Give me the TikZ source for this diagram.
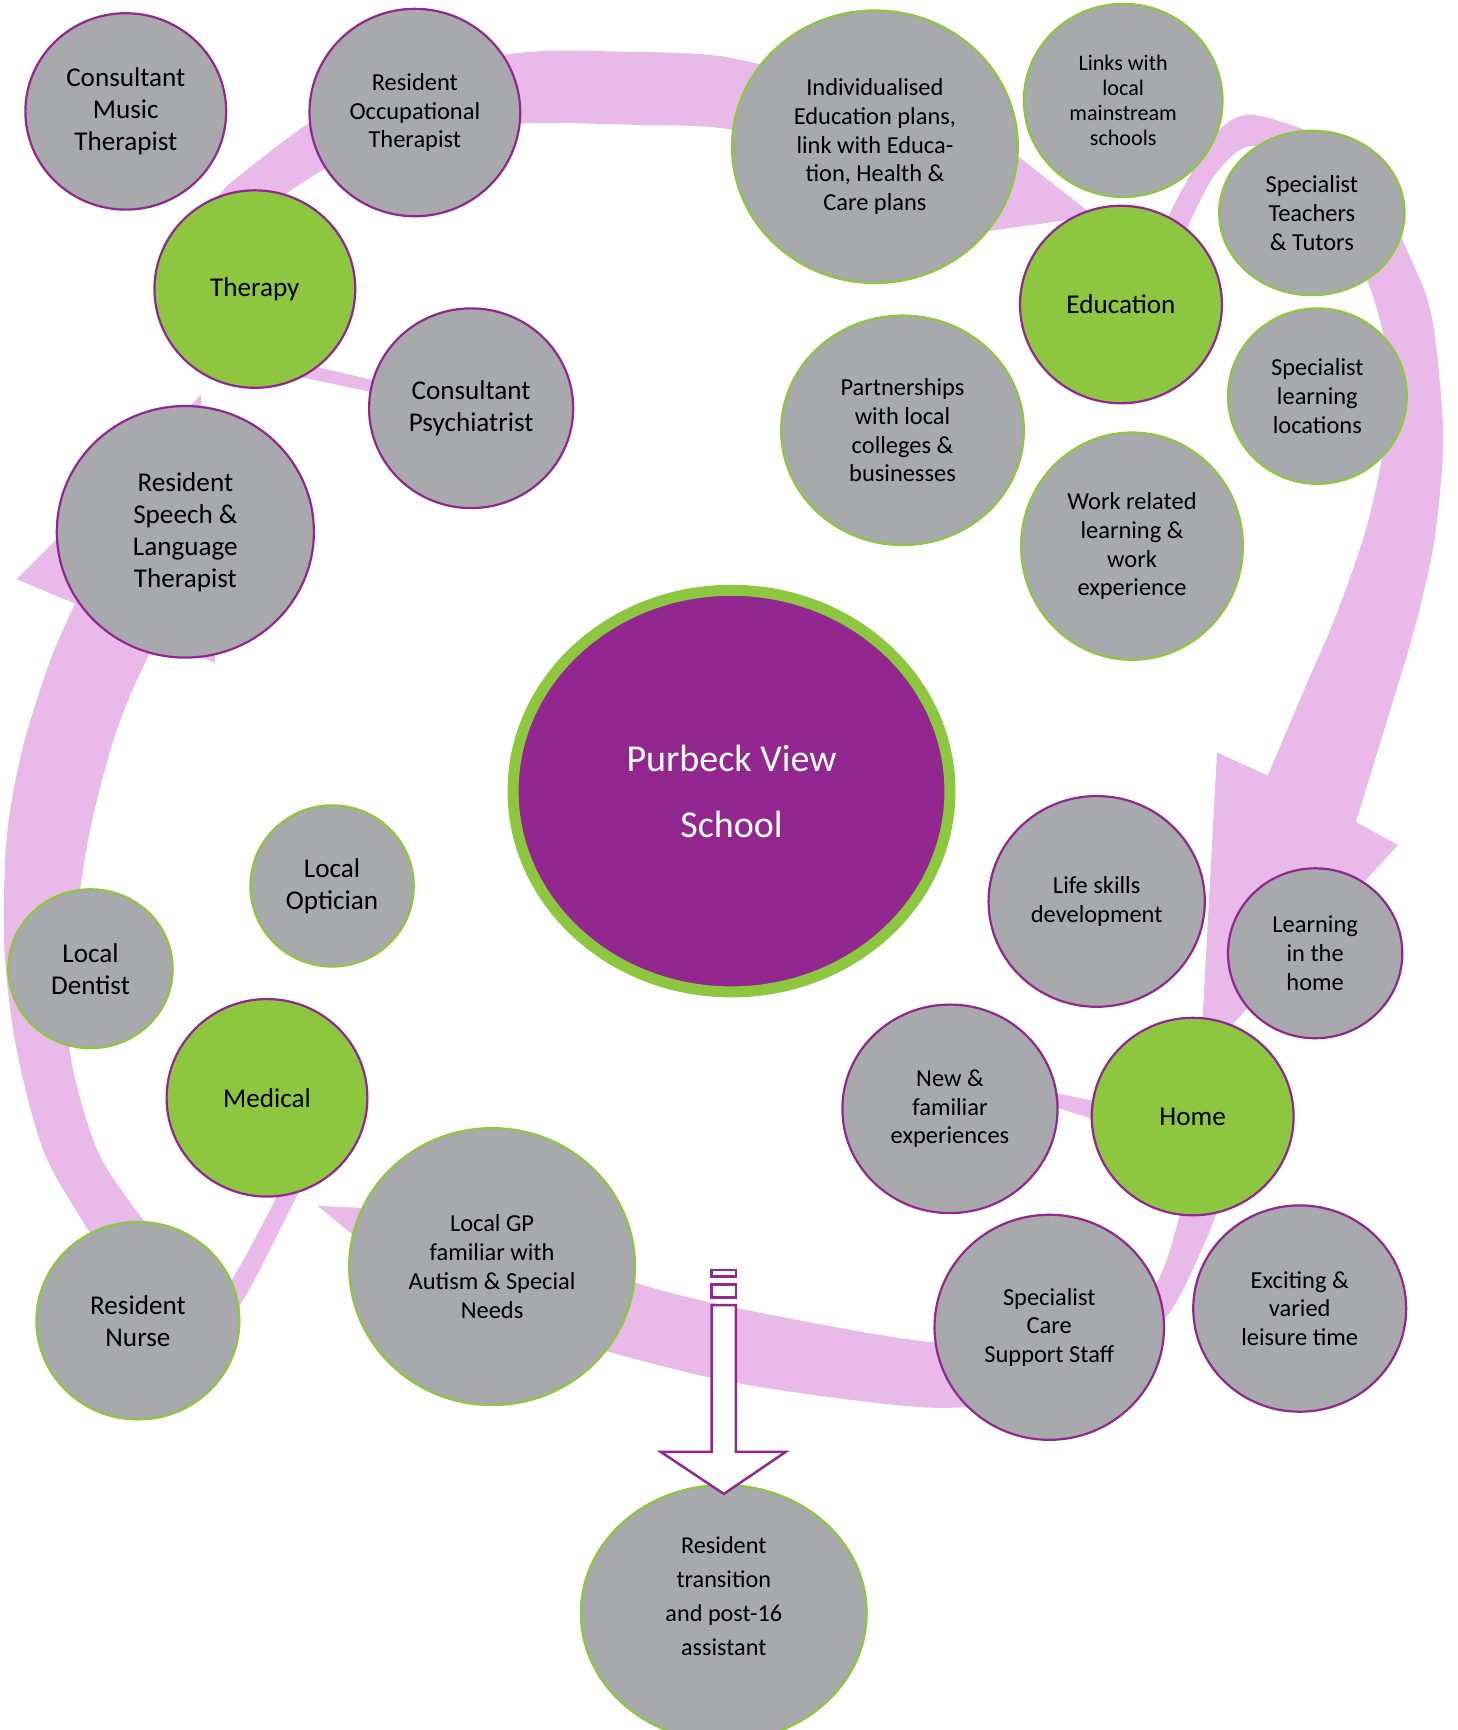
\documentclass[tikz,border=0pt]{standalone}
\usepackage{fontspec}
\setmainfont{Carlito}
\usetikzlibrary{shapes.geometric,calc,positioning}

\definecolor{bubgray}{HTML}{A7A9AC}
\definecolor{hubgreen}{HTML}{8DC63F}
\definecolor{rimpurple}{HTML}{92278F}
\definecolor{ringpink}{HTML}{E9B9E9}

% text sizes used in the bubbles
\newcommand{\txtbig}{\fontsize{14}{16.5}\selectfont}
\newcommand{\txtmid}{\fontsize{12.6}{14.8}\selectfont}
\newcommand{\txtsmall}{\fontsize{11.4}{13}\selectfont}
\newcommand{\txtwide}{\fontsize{12.5}{17.6}\selectfont}
\newcommand{\txtschool}{\fontsize{19.6}{34}\selectfont}

\begin{document}
\begin{tikzpicture}[
    x=0.2mm, y=-0.2mm,
    bubble/.style  ={ellipse, draw=rimpurple, fill=bubgray, line width=0.4mm, inner sep=0pt, align=center, font=\txtmid},
    greenrim/.style={bubble, draw=hubgreen},
    hub/.style     ={bubble, fill=hubgreen, font=\txtbig},
    dims/.style 2 args={minimum width=#1*0.2mm, minimum height=#2*0.2mm},
    band/.style    ={fill=ringpink},
    hollow/.style  ={draw=rimpurple, fill=white, line width=0.45mm, line join=miter},
]
\useasboundingbox (0,0) rectangle (1321,1568);
\clip (0,0) rectangle (1321,1568);

% ---------- pink cycle (behind everything) ----------
% top: Therapy -> Education
\fill[band] (180,200)
  -- plot[smooth] coordinates
  {(205,169) (281,111) (360,72) (470,48) (570,47) (660,52) (760,80) (859,127)}
  -- (867,98) -- (992,196) -- (833,218)
  -- plot[smooth] coordinates
  {(841,189) (740,142) (660,117) (570,113) (470,112) (390,124) (320,140) (260,175) (235,200)}
  -- cycle;
\fill[band] (240,322) -- (345,346) -- (345,357) -- (240,335) -- cycle;

% right: Education -> Home
\fill[band] plot[smooth] coordinates
  {(1045,230) (1062,190) (1085,148) (1108,115) (1133,104) (1175,115) (1230,140) (1262,190)
   (1271,217) (1293,269) (1302,317) (1308,400) (1300,490) (1282,570) (1258,650) (1229,745)}
  -- (1267,766) -- (1088,960) -- (1103,682)
  -- plot[smooth] coordinates
  {(1149,703) (1180,630) (1210,560) (1238,480) (1255,400) (1258,330) (1245,270) (1225,225)
   (1190,165) (1150,135) (1125,135) (1100,160) (1080,198) (1065,235)}
  -- cycle;

% bottom: Home -> Medical
\fill[band] (288,1093) -- (471,1101)
  -- plot[smooth] coordinates
  {(463,1120) (587,1166) (700,1192) (850,1217) (960,1212) (1040,1175) (1069,1103) (1075,1060)}
  -- plot[smooth] coordinates
  {(1110,1060) (1103,1099) (1062,1187) (1010,1240) (940,1268) (850,1276) (750,1266) (650,1250)
   (540,1222) (437,1190)}
  -- (429,1209) -- cycle;
\fill[band] (930,985) -- (1040,1008) -- (1040,1030) -- (930,995) -- cycle;

% left: Medical -> Therapy
\fill[band] (182,358) -- (15,525)
  -- plot[smooth] coordinates
  {(68,547) (45,600) (20,680) (6,760) (4,860) (15,951) (39,1042) (72,1102) (110,1160) (150,1215)}
  -- plot[smooth] coordinates {(200,1212) (229,1163) (269,1084) (285,1050)}
  -- plot[smooth] coordinates {(262,1050) (251,1084) (208,1163) (180,1185)}
  -- plot[smooth] coordinates
  {(165,1150) (127,1102) (88,1042) (63,951) (66,860) (80,760) (100,680) (118,630) (142,579)}
  -- (195,601) -- cycle;

% ---------- centre ----------
\node[ellipse, draw=hubgreen, line width=2mm, fill=rimpurple, text=white, font=\txtschool,
      align=center, inner sep=0pt, dims={396}{364}]
      (school) at (663,717) {Purbeck View\\School};

% ---------- hubs ----------
\node[hub, dims={182}{179}] (therapy)   at (231,262)  {Therapy};
\node[hub, dims={183}{179}] (education) at (1016,276) {Education};
\node[hub, dims={183}{179}] (home)      at (1081,1012) {Home};
\node[hub, dims={182}{179}] (medical)   at (242,995)  {Medical};

% Therapy
\node[bubble, dims={182}{178}, font=\txtbig] (music) at ($(therapy)+(-117,-161)$) {Consultant\\Music\\Therapist};
\node[bubble, dims={191}{188}] (occ) at ($(therapy)+(145,-160)$) {Resident\\Occupational\\Therapist};
\node[bubble, dims={185}{181}, font=\txtbig] (psych) at ($(therapy)+(196,108)$) {Consultant\\Psychiatrist};
\node[bubble, dims={233}{228}, font=\txtbig] (speech) at ($(therapy)+(-63,220)$) {Resident\\Speech \&\\Language\\Therapist};

% Education
\node[greenrim, dims={259}{247}] (iep) at ($(education)+(-223,-143)$)
  {Individualised\\Education plans,\\link with Educa-\\tion, Health \&\\Care plans};
\node[greenrim, dims={180}{175}, font=\txtsmall] (links) at ($(education)+(2,-185)$) {Links with\\local\\mainstream\\schools};
\node[greenrim, dims={168}{149}] (teachers) at ($(education)+(173,-83)$) {Specialist\\Teachers\\\& Tutors};
\node[greenrim, dims={162}{159}] (locations) at ($(education)+(178,83)$) {Specialist\\learning\\locations};
\node[greenrim, dims={220}{208}] (partner) at ($(education)+(-198,114)$) {Partnerships\\with local\\colleges \&\\businesses};
\node[greenrim, dims={201}{206}] (work) at ($(education)+(10,219)$) {Work related\\learning \&\\work\\experience};

% Home
\node[bubble, dims={196}{191}] (life) at ($(home)+(-87,-195)$) {Life skills\\development};
\node[bubble, dims={158}{154}] (inhome) at ($(home)+(111,-148)$) {Learning\\in the\\home};
\node[bubble, dims={195}{189}] (newfam) at ($(home)+(-220,-7)$) {New \&\\familiar\\experiences};
\node[bubble, dims={208}{204}] (staff) at ($(home)+(-130,191)$) {Specialist\\Care\\Support Staff};
\node[bubble, dims={193}{187}] (leisure) at ($(home)+(97,174)$) {Exciting \&\\varied\\leisure time};

% Medical
\node[greenrim, dims={148}{146}, font=\txtbig] (optician) at ($(medical)+(59,-192)$) {Local\\Optician};
\node[greenrim, dims={149}{144}, font=\txtbig] (dentist) at ($(medical)+(-160,-117)$) {Local\\Dentist};
\node[greenrim, dims={259}{251}] (gp) at ($(medical)+(204,153)$) {Local GP\\familiar with\\Autism \& Special\\Needs};
\node[greenrim, dims={184}{179}, font=\txtbig] (nurse) at ($(medical)+(-117,202)$) {Resident\\Nurse};

% after school
\node[greenrim, dims={259}{232}, font=\txtwide] (trans) at ($(school)+(-7,745)$) {Resident\\transition\\and post-16\\assistant\\\mbox{}};

% ---------- hollow arrow into transition ----------
\coordinate (tip) at ($(trans.north)+(0,9)$);
\begin{scope}[shift={(tip)}]
  \filldraw[hollow] (0,0) -- (-57,-38) -- (-11,-38) -- (-11,-171) -- (11,-171) -- (11,-38) -- (56,-38) -- cycle;
  \filldraw[hollow] (-11,-178) rectangle (11,-190);
  \filldraw[hollow] (-11,-197) rectangle (11,-203);
\end{scope}

\end{tikzpicture}
\end{document}
